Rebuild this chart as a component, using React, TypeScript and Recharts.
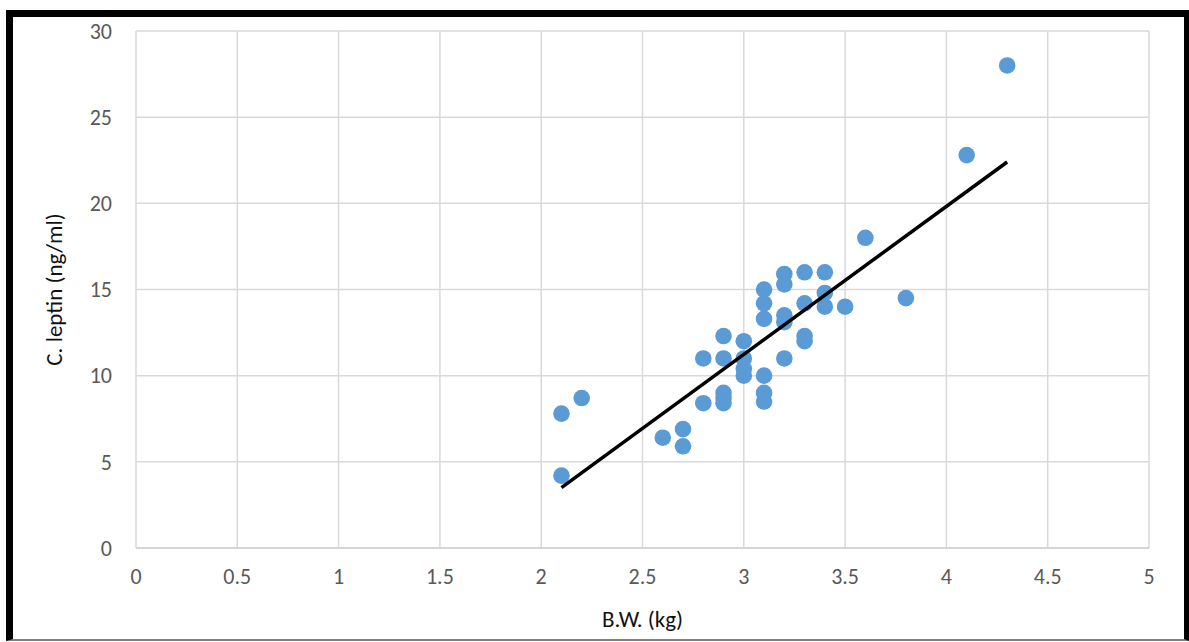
import React from "react";
import {
    ScatterChart,
    Scatter,
    XAxis,
    YAxis,
    CartesianGrid,
} from "recharts";

const bw = [
    2.1, 2.2, 2.1, 2.6, 2.7, 2.7, 2.8, 2.8,
    2.9, 2.9, 2.9, 2.9, 2.9,
    3.0, 3.0, 3.0, 3.0,
    3.1, 3.1, 3.1, 3.1, 3.1, 3.1,
    3.2, 3.2, 3.2, 3.2, 3.2,
    3.3, 3.3, 3.3, 3.3,
    3.4, 3.4, 3.4,
    3.5, 3.6, 3.8, 4.1, 4.3,
];
const leptin = [
    7.8, 8.7, 4.2, 6.4, 6.9, 5.9, 8.4, 11.0,
    12.3, 11.0, 9.0, 8.7, 8.4,
    12.0, 11.0, 10.4, 10.0,
    15.0, 14.2, 13.3, 10.0, 9.0, 8.5,
    15.9, 15.3, 13.5, 13.1, 11.0,
    16.0, 14.2, 12.3, 12.0,
    16.0, 14.8, 14.0,
    14.0, 18.0, 14.5, 22.8, 28.0,
];

// fitted line end points as drawn in the source
const trendBw = [2.1, 4.3];
const trendLeptin = [3.5, 22.4];

const xTicks = [0, 0.5, 1, 1.5, 2, 2.5, 3, 3.5, 4, 4.5, 5];
const yTicks = [0, 5, 10, 15, 20, 25, 30];

const points = bw.map((x, i) => ({ x, y: leptin[i] }));
const trend = trendBw.map((x, i) => ({ x, y: trendLeptin[i] }));

const font = "Carlito, Calibri, Lato, sans-serif";

const Dot = (props: any) => (
    <circle cx={props.cx} cy={props.cy} r={8.3} fill="#5b9bd5" />
);

export default function App() {
    return (
        <div style={{ position: "absolute", left: 0, top: 0, width: 1189, height: 642, background: "#fff" }}>
            <div
                style={{
                    position: "absolute",
                    left: 6,
                    top: 10,
                    width: 1183,
                    height: 631,
                    boxSizing: "border-box",
                    borderLeft: "7px solid #000",
                    borderTop: "7px solid #000",
                    borderRight: "5px solid #000",
                    borderBottom: "2px solid #808080",
                }}
            />
            <div style={{ position: "absolute", left: 0, top: 0 }}>
                <ScatterChart
                    width={1189}
                    height={642}
                    margin={{ top: 31, right: 40, left: 0, bottom: 0 }}
                    style={{ fontFamily: font }}
                >
                    <CartesianGrid stroke="#d9d9d9" strokeWidth={1.5} />
                    <XAxis
                        type="number"
                        dataKey="x"
                        domain={[0, 5]}
                        ticks={xTicks}
                        height={94}
                        tickLine={false}
                        axisLine={{ stroke: "#d0d0d0", strokeWidth: 1.5 }}
                        tickSize={6}
                        tickMargin={14}
                        tick={{ fill: "#595959", fontSize: 22 }}
                        label={{
                            value: "B.W. (kg)",
                            position: "insideBottom",
                            offset: 15,
                            fill: "#111",
                            fontSize: 23,
                        }}
                    />
                    <YAxis
                        type="number"
                        dataKey="y"
                        domain={[0, 30]}
                        ticks={yTicks}
                        width={136}
                        tickLine={false}
                        axisLine={false}
                        tickSize={6}
                        tickMargin={18}
                        tick={{ fill: "#595959", fontSize: 22 }}
                        label={{
                            value: "C. leptin (ng/ml)",
                            angle: -90,
                            position: "insideLeft",
                            offset: 54,
                            fill: "#111",
                            fontSize: 23,
                            style: { textAnchor: "middle" },
                        }}
                    />
                    <Scatter data={points} shape={Dot} isAnimationActive={false} />
                    <Scatter
                        data={trend}
                        line={{ stroke: "#000", strokeWidth: 3.5 }}
                        shape={() => null}
                        isAnimationActive={false}
                    />
                </ScatterChart>
            </div>
        </div>
    );
}
